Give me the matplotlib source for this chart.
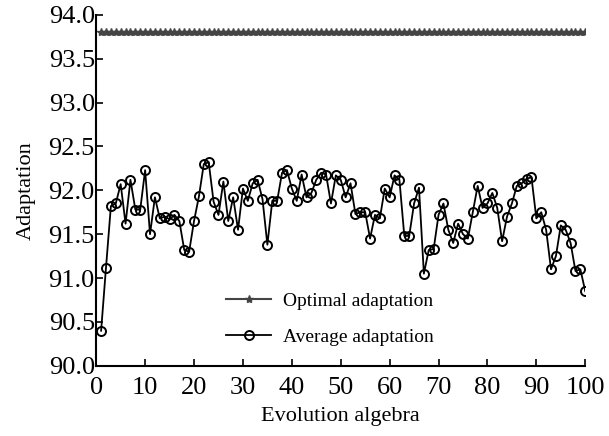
import matplotlib
matplotlib.use('Agg')
import matplotlib.pyplot as plt

plt.rcParams['font.family'] = ['Liberation Serif', 'DejaVu Serif']

# evolution generations 1..100
generations = list(range(1, 101))

optimal = [93.8] * 100

average = [
    90.40, 91.12, 91.82, 91.85, 92.07, 91.62, 92.12, 91.78, 91.78, 92.23,
    91.50, 91.92, 91.68, 91.70, 91.67, 91.72, 91.65, 91.32, 91.30, 91.65,
    91.93, 92.30, 92.32, 91.87, 91.72, 92.10, 91.65, 91.92, 91.55, 92.02,
    91.88, 92.08, 92.12, 91.90, 91.38, 91.88, 91.88, 92.20, 92.23, 92.02,
    91.88, 92.18, 91.92, 91.97, 92.12, 92.20, 92.18, 91.85, 92.17, 92.12,
    91.92, 92.08, 91.73, 91.75, 91.75, 91.45, 91.72, 91.68, 92.02, 91.92,
    92.17, 92.12, 91.48, 91.48, 91.85, 92.03, 91.05, 91.32, 91.33, 91.72,
    91.85, 91.55, 91.40, 91.62, 91.50, 91.45, 91.75, 92.05, 91.80, 91.85,
    91.97, 91.80, 91.42, 91.70, 91.85, 92.05, 92.08, 92.13, 92.15, 91.68,
    91.75, 91.55, 91.10, 91.25, 91.60, 91.55, 91.40, 91.08, 91.10, 90.85,
]

fig = plt.figure(figsize=(6.09, 4.36), dpi=100)
ax = fig.add_axes([0.158, 0.161, 0.803, 0.805])

ax.plot(generations, optimal, color='#444444', linewidth=1.5, marker='*',
        markersize=6, label='Optimal adaptation')
ax.plot(generations, average, color='black', linewidth=1.3, marker='o',
        markersize=6.5, markerfacecolor='none', markeredgewidth=1.4,
        label='Average adaptation')

ax.set_xlim(0, 100)
ax.set_ylim(90.0, 94.0)
ax.set_xticks(range(0, 101, 10))
ax.set_yticks([90.0, 90.5, 91.0, 91.5, 92.0, 92.5, 93.0, 93.5, 94.0])
ax.set_yticklabels(['%.1f' % v for v in ax.get_yticks()])
ax.tick_params(direction='in', labelsize=19, length=5, width=1.2)
ax.tick_params(axis='x', pad=8)
ax.tick_params(axis='y', pad=1)

for side in ['top', 'right']:
    ax.spines[side].set_visible(False)
for side in ['left', 'bottom']:
    ax.spines[side].set_linewidth(1.5)

ax.set_xlabel('Evolution algebra', fontsize=16, labelpad=6)
ax.set_ylabel('Adaptation', fontsize=16, labelpad=9)

ax.legend(loc='lower left', bbox_to_anchor=(0.23, 0.006), frameon=False,
          fontsize=14, handlelength=2.3, labelspacing=0.95, handletextpad=0.6)

plt.savefig('out.png', dpi=100)
